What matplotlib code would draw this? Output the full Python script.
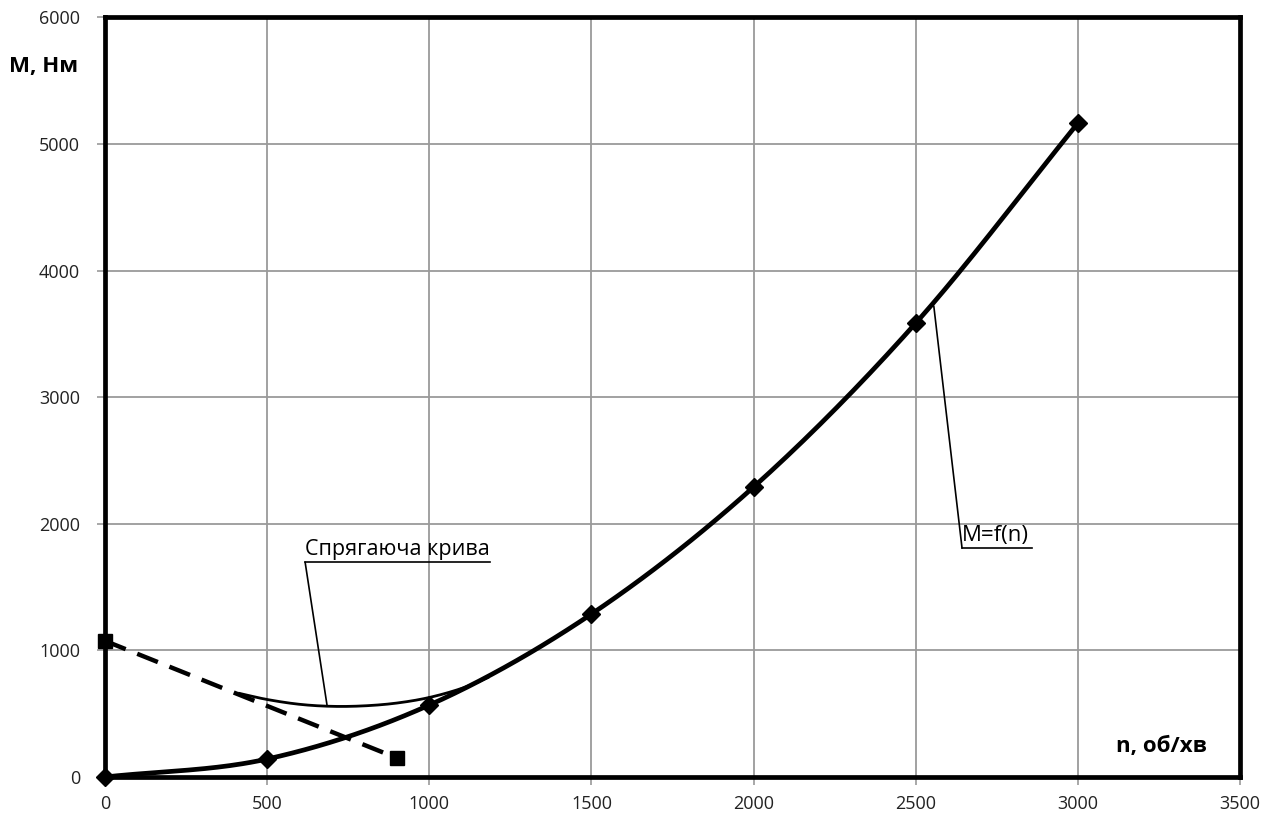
import numpy as np
import matplotlib
matplotlib.use("Agg")
import matplotlib.pyplot as plt

plt.rcParams['font.family'] = ['Open Sans', 'DejaVu Sans']

# Torque characteristic M = f(n)
n_main = [0, 500, 1000, 1500, 2000, 2500, 3000]
m_main = [0, 142, 568, 1287, 2290, 3584, 5163]

# Straight dashed segment
n_line = [0, 900]
m_line = [1075, 150]

# Conjugating (blending) curve
n_conj = [415, 500, 600, 700, 800, 900, 1000, 1100, 1180]
m_conj = [660, 612, 574, 558, 562, 584, 628, 700, 785]

x_ticks = [0, 500, 1000, 1500, 2000, 2500, 3000, 3500]
y_ticks = [0, 1000, 2000, 3000, 4000, 5000, 6000]


def smooth(xs, ys, per_seg=40):
    """Catmull-Rom smoothing through the given points."""
    p = np.column_stack([xs, ys]).astype(float)
    p = np.vstack([2 * p[0] - p[1], p, 2 * p[-1] - p[-2]])
    out = []
    t = np.linspace(0, 1, per_seg)[:, None]
    for i in range(1, len(p) - 2):
        p0, p1, p2, p3 = p[i - 1], p[i], p[i + 1], p[i + 2]
        seg = 0.5 * ((2 * p1) + (-p0 + p2) * t + (2 * p0 - 5 * p1 + 4 * p2 - p3) * t ** 2
                     + (-p0 + 3 * p1 - 3 * p2 + p3) * t ** 3)
        out.append(seg)
    out = np.vstack(out)
    return out[:, 0], out[:, 1]


fig = plt.figure(figsize=(12.78, 8.16), dpi=100)
ax = fig.add_axes([0.0822, 0.0478, 0.888, 0.931])

ax.set_xlim(0, 3500)
ax.set_ylim(0, 6000)
ax.set_xticks(x_ticks)
ax.set_yticks(y_ticks)
ax.grid(True, color='#9a9a9a', linewidth=1.3)
ax.set_axisbelow(True)
ax.tick_params(axis='both', colors='#9a9a9a', length=6, width=1.2, labelsize=13,
               labelcolor='#222222')
ax.tick_params(axis='y', pad=12)
ax.tick_params(axis='x', pad=7)
for s in ax.spines.values():
    s.set_linewidth(3.4)
    s.set_color('black')

# main curve
xs, ys = smooth(n_main, m_main)
ax.plot(xs, ys, color='black', lw=3.4, zorder=4, clip_on=False)
ax.plot(n_main, m_main, linestyle='none', marker='D', ms=9, color='black', zorder=5,
        clip_on=False)

# dashed straight line
ax.plot(n_line, m_line, color='black', lw=3.2, ls=(0, (5, 2.8)), zorder=4)
ax.plot(n_line, m_line, linestyle='none', marker='s', ms=10, color='black', zorder=5,
        clip_on=False)

# conjugating curve
cx, cy = smooth(n_conj, m_conj)
ax.plot(cx, cy, color='black', lw=2.0, zorder=4)

# callouts
ax.annotate('', xy=(685, 560), xytext=(617, 1697),
            arrowprops=dict(arrowstyle='-', color='black', lw=1.2, shrinkA=0, shrinkB=0))
ax.text(617, 1712, 'Спрягаюча крива', fontsize=15.5, ha='left', va='bottom')
ax.plot([617, 1188], [1697, 1697], color='black', lw=1.2)

ax.annotate('', xy=(2556, 3718), xytext=(2643, 1808),
            arrowprops=dict(arrowstyle='-', color='black', lw=1.2, shrinkA=0, shrinkB=0))
ax.text(2643, 1823, 'M=f(n)', fontsize=16, ha='left', va='bottom')
ax.plot([2643, 2860], [1808, 1808], color='black', lw=1.2)

# axis titles
fig.text(0.034, 0.918, 'М, Нм', fontsize=16, fontweight='bold', ha='center', va='center')
ax.text(3259, 237, 'n, об/хв', fontsize=16, fontweight='bold', ha='center', va='center')

fig.savefig('out.png', dpi=100)
